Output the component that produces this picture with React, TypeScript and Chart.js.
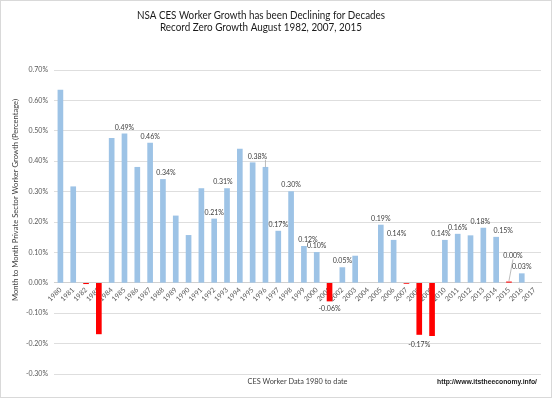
import { useEffect, useRef } from 'react';
import { Chart, registerables } from 'chart.js';

Chart.register(...registerables);

const YEARS = [
  '1980', '1981', '1982', '1983', '1984', '1985', '1986', '1987', '1988', '1989',
  '1990', '1991', '1992', '1993', '1994', '1995', '1996', '1997', '1998', '1999',
  '2000', '2001', '2002', '2003', '2004', '2005', '2006', '2007', '2008', '2009',
  '2010', '2011', '2012', '2013', '2014', '2015', '2016', '2017',
];

// Month-to-month private sector worker growth (percent)
const GROWTH: (number | null)[] = [
  0.634, 0.316, -0.003, -0.168, 0.475, 0.49, 0.38, 0.46, 0.34, 0.22,
  0.156, 0.31, 0.21, 0.31, 0.44, 0.395, 0.38, 0.17, 0.30, 0.12,
  0.10, -0.06, 0.05, 0.088, null, 0.19, 0.14, -0.002, -0.17, -0.174,
  0.14, 0.16, 0.155, 0.18, 0.15, 0.003, 0.03, null,
];

const LABELED_YEARS = [
  '1985', '1987', '1988', '1992', '1993', '1996', '1997', '1998', '1999', '2000',
  '2001', '2002', '2005', '2006', '2008', '2010', '2011', '2013', '2014', '2015', '2016',
];

const Y_MIN = -0.3;
const Y_MAX = 0.7;
const Y_STEP = 0.1;

const TITLE_LINES = [
  'NSA CES Worker Growth has been Declining for Decades',
  'Record Zero Growth August 1982, 2007, 2015',
];
const Y_TITLE = 'Month to Month Private Sector Worker Growth (Percentage)';
const X_TITLE = 'CES Worker Data 1980 to date';
const SOURCE = 'http://www.itstheeconomy.info/';

const FONT = 'Lato, "Open Sans", sans-serif';
const BLUE = '#9dc3e6';
const RED = '#ff0000';

// label placement tweaks (layout only): [dx, dy, leader line]
const LABEL_NUDGE: Record<string, [number, number, boolean]> = {
  '1996': [-8, -4, true],
  '2015': [4, -20, true],
  '2008': [0, 2, false],
  '2014': [7, 0, false],
  '2010': [-4, 0, false],
  '1999': [4, 0, false],
  '2006': [3, 0, false],
  '2013': [-3, 0, false],
  '1988': [3, 0, false],
  '1993': [-4, 0, false],
};

const fmt = (v: number) => (Math.abs(v) < 0.005 ? 0 : v).toFixed(2) + '%';

const decor = {
  id: 'decor',
  beforeDraw(chart: any) {
    const { ctx, width, height } = chart;
    ctx.save();
    ctx.fillStyle = '#ffffff';
    ctx.fillRect(0, 0, width, height);
    ctx.strokeStyle = '#d9d9d9';
    ctx.lineWidth = 1;
    ctx.strokeRect(0.5, 0.5, width - 1, height - 1);
    ctx.restore();
  },
  afterDraw(chart: any) {
    const { ctx, chartArea } = chart;
    ctx.save();
    // title
    ctx.fillStyle = '#1a1a1a';
    ctx.textAlign = 'center';
    ctx.textBaseline = 'middle';
    ctx.font = `11px ${FONT}`;
    ctx.fillText(TITLE_LINES[0], 261, 15, 248);
    ctx.fillText(TITLE_LINES[1], 261, 27.5, 202);

    // y title
    ctx.save();
    ctx.translate(15, 200);
    ctx.rotate(-Math.PI / 2);
    ctx.fillStyle = '#404040';
    ctx.font = `8px ${FONT}`;
    ctx.fillText(Y_TITLE, 0, 0, 202);
    ctx.restore();

    // x title
    ctx.fillStyle = '#404040';
    ctx.font = `8px ${FONT}`;
    ctx.fillText(X_TITLE, (chartArea.left + chartArea.right) / 2, 381, 100);

    // source
    ctx.textAlign = 'right';
    ctx.fillStyle = '#1a1a1a';
    ctx.font = `bold 7px "Liberation Sans", sans-serif`;
    ctx.fillText(SOURCE, 537, 382, 100);

    // data labels
    const meta = chart.getDatasetMeta(0);
    ctx.font = `7px ${FONT}`;
    ctx.fillStyle = '#404040';
    ctx.textAlign = 'center';
    LABELED_YEARS.forEach((yr) => {
      const i = YEARS.indexOf(yr);
      const v = GROWTH[i];
      if (v == null) return;
      const bar = meta.data[i];
      const nudge = LABEL_NUDGE[yr] || [0, 0, false];
      const x = bar.x + nudge[0];
      let y: number;
      if (v >= 0) {
        y = bar.y - 6.5 + nudge[1];
      } else {
        y = bar.y + 8 + nudge[1];
      }
      ctx.fillText(fmt(v), x, y);
      if (nudge[2]) {
        ctx.strokeStyle = '#a6a6a6';
        ctx.lineWidth = 0.75;
        ctx.beginPath();
        if (v >= 0 && nudge[1] < -10) {
          ctx.moveTo(x, y + 4);
          ctx.lineTo(bar.x, bar.y - 1);
        } else {
          ctx.moveTo(x + 8, y + 3);
          ctx.lineTo(bar.x, bar.y);
        }
        ctx.stroke();
      }
    });
    ctx.restore();
  },
};

export default function App() {
  const ref = useRef<HTMLCanvasElement>(null);

  useEffect(() => {
    if (!ref.current) return;
    const chart = new Chart(ref.current, {
      type: 'bar',
      data: {
        labels: YEARS,
        datasets: [
          {
            data: GROWTH,
            backgroundColor: GROWTH.map((v) => (v != null && v < 0.01 ? RED : BLUE)),
            barThickness: 5,
            borderWidth: 0,
          },
        ],
      },
      options: {
        responsive: false,
        animation: false,
        devicePixelRatio: 1,
        layout: { padding: { top: 70, bottom: 24, right: 11, left: 0 } },
        plugins: {
          legend: { display: false },
          tooltip: { enabled: false },
          title: { display: false },
        },
        scales: {
          x: {
            position: { y: 0 } as any,
            grid: { display: false, drawTicks: false },
            border: { display: true, color: '#d0d0d0' },
            ticks: {
              autoSkip: false,
              minRotation: 45,
              maxRotation: 45,
              padding: 3,
              color: '#595959',
              font: { family: FONT, size: 7 },
            },
          },
          y: {
            min: Y_MIN,
            max: Y_MAX,
            afterFit: (s: any) => {
              s.width = 54;
            },
            grid: { color: '#dedede', drawTicks: false },
            border: { display: false },
            ticks: {
              stepSize: Y_STEP,
              padding: 6,
              color: '#595959',
              font: { family: FONT, size: 7 },
              callback: (v: any) => Number(v).toFixed(2) + '%',
            },
          },
        },
      },
      plugins: [decor],
    });
    return () => chart.destroy();
  }, []);

  return (
    <div style={{ position: 'absolute', left: 0, top: 0, width: 552, height: 398 }}>
      <canvas ref={ref} width={552} height={398} />
    </div>
  );
}
